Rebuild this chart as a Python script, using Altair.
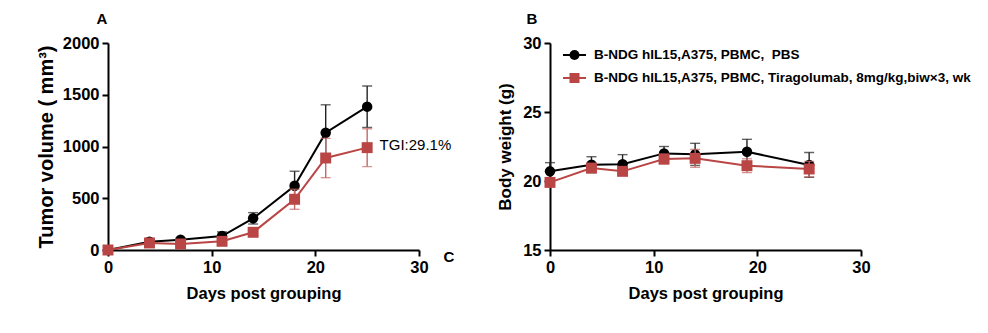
import altair as alt
import pandas as pd

# ---------------- data ----------------
a_days = [0, 4, 7, 11, 14, 18, 21, 25]
a_pbs = [0, 80, 100, 135, 306, 621, 1133, 1385]
a_pbs_err = [10, 15, 15, 40, 55, 140, 270, 200]
a_tira = [0, 68, 58, 84, 171, 490, 889, 989]
a_tira_err = [10, 15, 15, 20, 35, 97, 190, 183]

b_days = [0, 4, 7, 11, 14, 19, 25]
b_pbs = [20.70, 21.18, 21.21, 22.00, 21.93, 22.12, 21.16]
b_pbs_err = [0.63, 0.58, 0.70, 0.50, 0.80, 0.90, 0.90]
b_tira = [19.90, 20.94, 20.70, 21.59, 21.64, 21.11, 20.87]
b_tira_err = [0.30, 0.25, 0.25, 0.35, 0.65, 0.50, 0.55]

groups = ["B-NDG hIL15,A375, PBMC,\u00a0\u00a0PBS",
          "B-NDG hIL15,A375, PBMC, Tiragolumab, 8mg/kg,biw\u00d73, wk"]
tgi_label = ["TGI:29.1%"]
tgi_pos = [26.2, 1010]

BLACK = "#000000"
RED = "#B94544"
FONT = "Liberation Sans"
W, H = 311, 207


def frame(days, vals, errs):
    return pd.DataFrame({
        "day": days, "v": vals,
        "lo": [v - e for v, e in zip(vals, errs)],
        "hi": [v + e for v, e in zip(vals, errs)],
    })


def series_layers(df, xs, ys, color, err_color, shape, size):
    base = alt.Chart(df)
    x = alt.X("day:Q", scale=xs)
    bar = base.mark_rule(color=err_color, strokeWidth=1.4).encode(
        x=x, y=alt.Y("lo:Q", scale=ys), y2="hi:Q")
    cap_hi = base.mark_tick(orient="horizontal", color=err_color, size=10, thickness=1.4).encode(
        x=x, y=alt.Y("hi:Q", scale=ys))
    cap_lo = base.mark_tick(orient="horizontal", color=err_color, size=10, thickness=1.4).encode(
        x=x, y=alt.Y("lo:Q", scale=ys))
    line = base.mark_line(color=color, strokeWidth=2).encode(
        x=x, y=alt.Y("v:Q", scale=ys))
    pts = base.mark_point(shape=shape, filled=True, color=color, opacity=1, size=size).encode(
        x=x, y=alt.Y("v:Q", scale=ys))
    return [bar, cap_hi, cap_lo, line, pts]


# ---------------- panel A ----------------
xsA = alt.Scale(domain=[0, 30], nice=False)
ysA = alt.Scale(domain=[0, 2000], nice=False)
dfA1 = frame(a_days, a_pbs, a_pbs_err)
dfA2 = frame(a_days, a_tira, a_tira_err)

axA = alt.Chart(pd.DataFrame({"day": [0], "v": [0]})).mark_point(opacity=0).encode(
    x=alt.X("day:Q", scale=xsA, axis=alt.Axis(values=[0, 10, 20, 30], title="Days post grouping")),
    y=alt.Y("v:Q", scale=ysA, axis=alt.Axis(
        values=[0, 500, 1000, 1500, 2000], format="d", title="Tumor volume ( mm\u00b3)",
        titleFontSize=20, titlePadding=6)),
)
tgi = alt.Chart(pd.DataFrame({"day": [tgi_pos[0]], "v": [tgi_pos[1]], "t": tgi_label})).mark_text(
    align="left", baseline="middle", font=FONT, fontSize=15, color="black").encode(
    x=alt.X("day:Q", scale=xsA), y=alt.Y("v:Q", scale=ysA), text="t:N")
labA = alt.Chart(pd.DataFrame({"t": ["A"]})).mark_text(
    font=FONT, fontSize=15, fontWeight="bold", color="black").encode(
    x=alt.value(-6), y=alt.value(-24), text="t:N")
labC = alt.Chart(pd.DataFrame({"t": ["C"]})).mark_text(
    font=FONT, fontSize=15, fontWeight="bold", color="black").encode(
    x=alt.value(341), y=alt.value(214), text="t:N")

panelA = alt.layer(
    axA,
    *series_layers(dfA1, xsA, ysA, BLACK, "#222222", "circle", 110),
    *series_layers(dfA2, xsA, ysA, RED, "#C46866", "square", 120),
    tgi, labA, labC,
).properties(width=W, height=H)

# ---------------- panel B ----------------
xsB = alt.Scale(domain=[0, 30], nice=False)
ysB = alt.Scale(domain=[15, 30], nice=False)
dfB1 = frame(b_days, b_pbs, b_pbs_err)
dfB2 = frame(b_days, b_tira, b_tira_err)

axB = alt.Chart(pd.DataFrame({"day": [0], "v": [15]})).mark_point(opacity=0).encode(
    x=alt.X("day:Q", scale=xsB, axis=alt.Axis(values=[0, 10, 20, 30], title="Days post grouping")),
    y=alt.Y("v:Q", scale=ysB, axis=alt.Axis(
        values=[15, 20, 25, 30], format="d", title="Body weight (g)", titleFontSize=17)),
)
labB = alt.Chart(pd.DataFrame({"t": ["B"]})).mark_text(
    font=FONT, fontSize=15, fontWeight="bold", color="black").encode(
    x=alt.value(-18), y=alt.value(-24), text="t:N")

leg = []
for i, (g, col, shp) in enumerate(zip(groups, [BLACK, RED], ["circle", "square"])):
    yy = 12 + 23 * i
    d = pd.DataFrame({"t": [g]})
    leg.append(alt.Chart(d).mark_rule(color=col, strokeWidth=2).encode(
        x=alt.value(13), x2=alt.value(36), y=alt.value(yy)))
    leg.append(alt.Chart(d).mark_point(shape=shp, filled=True, color=col, opacity=1, size=100).encode(
        x=alt.value(24.5), y=alt.value(yy)))
    leg.append(alt.Chart(d).mark_text(align="left", baseline="middle", font=FONT, fontSize=13.5,
                                      fontWeight="bold", color="black").encode(
        x=alt.value(44), y=alt.value(yy), text="t:N"))

panelB = alt.layer(
    axB,
    *series_layers(dfB1, xsB, ysB, BLACK, "#222222", "circle", 110),
    *series_layers(dfB2, xsB, ysB, RED, "#C46866", "square", 120),
    labB, *leg,
).properties(width=W, height=H)

chart = alt.hconcat(panelA, panelB, spacing=131, bounds="flush").properties(
    padding={"left": 36, "top": 12, "right": 0, "bottom": 0}
).configure(background="white").configure_view(stroke=None, strokeWidth=0).configure_axis(
    grid=False, domainColor="black", domainWidth=2, tickColor="black", tickWidth=2,
    tickSize=6, labelFont=FONT, labelFontSize=16.5, labelFontWeight="bold",
    labelColor="black", labelPadding=3, titleFont=FONT, titleFontWeight="bold",
    titleColor="black", labelFlush=False,
).configure_axisX(titleFontSize=16.5, titlePadding=10).configure_axisY(titlePadding=8)

chart.save("out.html", embed_options={"renderer": "svg", "actions": False})
